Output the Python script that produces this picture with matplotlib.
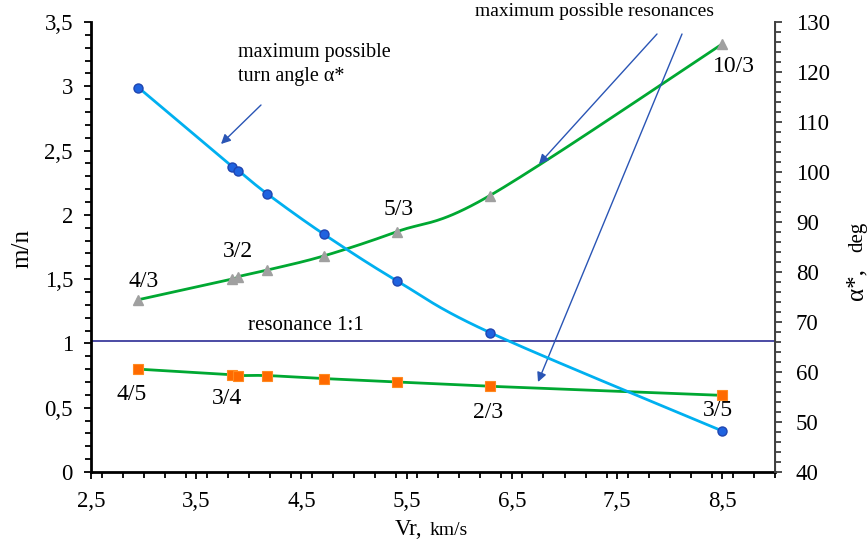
import numpy as np
import matplotlib
matplotlib.use("Agg")
import matplotlib.pyplot as plt
from matplotlib.ticker import MultipleLocator, FuncFormatter

plt.rcParams['font.family'] = ['Liberation Serif', 'DejaVu Serif']

# ---- data ----
vr = [2.95, 3.84, 3.90, 4.17, 4.71, 5.41, 6.29, 8.50]
alpha_max = [116.9, 101.1, 100.3, 95.7, 87.6, 78.2, 67.9, 48.2]
res_upper = [1.34, 1.50, 1.52, 1.57, 1.68, 1.87, 2.15, 3.33]
res_lower = [0.80, 0.757, 0.75, 0.75, 0.727, 0.70, 0.667, 0.596]
res_one = 1.02
upper_labels = {0: "4/3", 1: "3/2", 5: "5/3", 7: "10/3"}
lower_labels = {0: "4/5", 1: "3/4", 6: "2/3", 7: "3/5"}
xticks = [2.5, 3.5, 4.5, 5.5, 6.5, 7.5, 8.5]

W, H = 868, 553


def smooth(x, y, n=40):
    """Excel-like smoothed line (Catmull-Rom Bezier) through the points."""
    P = np.column_stack([x, y]).astype(float)
    out = []
    for i in range(len(P) - 1):
        p0 = P[i - 1] if i > 0 else P[i]
        p1, p2 = P[i], P[i + 1]
        p3 = P[i + 2] if i + 2 < len(P) else P[i + 1]
        c1 = p1 + (p2 - p0) / 6.0
        c2 = p2 - (p3 - p1) / 6.0
        t = np.linspace(0, 1, n)[:, None]
        seg = ((1 - t) ** 3) * p1 + 3 * ((1 - t) ** 2) * t * c1 + 3 * (1 - t) * t ** 2 * c2 + t ** 3 * p2
        out.append(seg if i == 0 else seg[1:])
    out = np.vstack(out)
    return out[:, 0], out[:, 1]


def fx(px):
    return px / W


def fy(py):
    return 1 - py / H


fig = plt.figure(figsize=(W / 100, H / 100), dpi=100)
ax = fig.add_axes([fx(91), fy(472), (775 - 91) / W, (472 - 22) / H])
ax2 = ax.twinx()

comma = FuncFormatter(lambda v, p: ("%g" % v).replace(".", ","))

ax.set_xlim(2.5, 9.0)
ax.set_ylim(0, 3.5)
ax2.set_ylim(40, 130)
ax.set_xticks(xticks)
ax.xaxis.set_minor_locator(MultipleLocator(0.2))
ax.yaxis.set_major_locator(MultipleLocator(0.5))
ax.yaxis.set_minor_locator(MultipleLocator(0.1))
ax2.yaxis.set_major_locator(MultipleLocator(10))
ax2.yaxis.set_minor_locator(MultipleLocator(2))
ax.xaxis.set_major_formatter(comma)
ax.yaxis.set_major_formatter(comma)
ax2.yaxis.set_major_formatter(comma)

for a in (ax, ax2):
    a.spines['top'].set_visible(False)
    a.tick_params(which='both', direction='out', width=1.3, labelsize=16.5)
    a.tick_params(which='major', length=5)
    a.tick_params(which='minor', length=4)
ax.spines['left'].set_linewidth(2)
ax.spines['bottom'].set_linewidth(2)
ax2.spines['right'].set_linewidth(1.4)
ax2.spines['right'].set_color('#404040')
ax2.spines['left'].set_visible(False)
ax2.spines['bottom'].set_visible(False)
ax.tick_params(axis='y', pad=8)
ax.tick_params(axis='x', pad=9)
ax2.tick_params(axis='y', which='both', colors='#404040', labelcolor='black', pad=10)

green = '#00A832'
# lower resonance curve
sx, sy = smooth(vr, res_lower)
ax.plot(sx, sy, color=green, lw=2.0, zorder=3)
ax.plot(vr, res_lower, ls='none', marker='s', ms=7, mfc='#FF6A00', mec='#FF8A20', mew=0.8, zorder=4)
# upper resonance curve
sx, sy = smooth(vr, res_upper)
ax.plot(sx, sy, color=green, lw=2.0, zorder=3)
ax.plot(vr, res_upper, ls='none', marker='^', ms=7, mfc='#A0A0A0', mec='#A0A0A0', zorder=4)
# resonance 1:1
ax.axhline(res_one, color='#1A1A8C', lw=1.1, zorder=2)

# alpha curve on right axis
ax2.set_zorder(ax.get_zorder() + 1)
ax2.patch.set_visible(False)
sx, sy = smooth(vr, alpha_max)
ax2.plot(sx, sy, color='#00B0F0', lw=2.0, zorder=3)
ax2.plot(vr, alpha_max, ls='none', marker='o', ms=6.5, mfc='#1F63E0', mec='#1F45B0', mew=1.0, zorder=4)

# point labels
up_off = {0: (3.5, 13), 1: (4.5, 20), 5: (1, 16), 7: (8, -16)}
lo_off = {0: (-4.5, -18), 1: (-3.6, -17), 6: (-1, -19), 7: (-3, -11)}
for i, lab in upper_labels.items():
    ax.annotate(lab, (vr[i], res_upper[i]), xytext=up_off[i], textcoords='offset points',
                ha='center', va='center', fontsize=17)
for i, lab in lower_labels.items():
    ax.annotate(lab, (vr[i], res_lower[i]), xytext=lo_off[i], textcoords='offset points',
                ha='center', va='center', fontsize=17)

# annotation texts
fig.text(fx(248), fy(325), "resonance 1:1", fontsize=15, ha='left', va='center')
fig.text(fx(238), fy(52), "maximum possible", fontsize=14.5, ha='left', va='center')
fig.text(fx(238), fy(77), "turn angle \u03b1*", fontsize=14.5, ha='left', va='center')
fig.text(fx(475), fy(11), "maximum possible resonances", fontsize=14, ha='left', va='center')

arrow_kw = dict(arrowstyle='-|>', color='#2A55B5', lw=1.0, mutation_scale=14, shrinkA=0, shrinkB=0)
for (x0, y0), (x1, y1) in [((261, 105), (221, 144)),
                           ((657, 34), (539, 164)),
                           ((682, 34), (538, 382))]:
    fig.add_artist(matplotlib.patches.FancyArrowPatch((fx(x0), fy(y0)), (fx(x1), fy(y1)),
                                                      transform=fig.transFigure, **arrow_kw))

# axis labels
fig.text(fx(33), fy(248), "m/n", rotation=90, fontsize=18, ha='right', va='center')
fig.text(fx(395), fy(535), "Vr,", fontsize=16.5, ha='left', va='baseline')
fig.text(fx(430), fy(535), "km/s", fontsize=14, ha='left', va='baseline')
fig.text(fx(862), fy(300), "\u03b1*,", rotation=90, rotation_mode='anchor', fontsize=18,
         ha='left', va='baseline')
fig.text(fx(862), fy(252), "deg", rotation=90, rotation_mode='anchor', fontsize=15,
         ha='left', va='baseline')

fig.savefig("out.png", dpi=100)
